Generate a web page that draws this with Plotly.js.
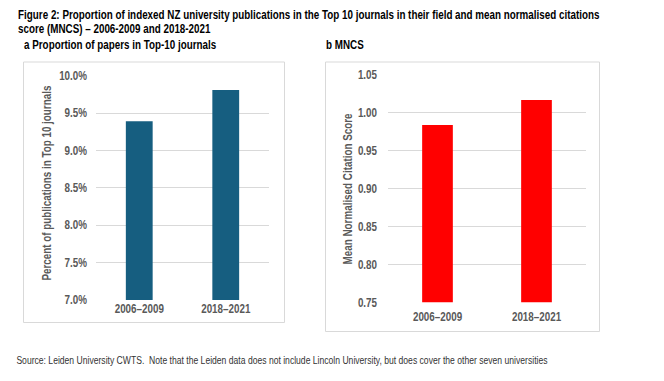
<!DOCTYPE html>
<html>
<head>
<meta charset="utf-8">
<script src="https://cdn.plot.ly/plotly-3.0.1.min.js"></script>
<style>html,body{margin:0;padding:0;background:#fff;}#chart{width:664px;height:381px;}</style>
</head>
<body>
<div id="chart"></div>
<script>
const periods = ["2006–2009", "2018–2021"];
const top10Share = [9.39, 9.81];
const mncs = [0.984, 1.017];
const top10Ticks = [7.0, 7.5, 8.0, 8.5, 9.0, 9.5, 10.0];
const mncsTicks = [0.75, 0.80, 0.85, 0.90, 0.95, 1.00, 1.05];

const W = 664, H = 381;
const px = x => x / W;
const py = y => 1 - y / H;
const FONT = "'Liberation Sans', Arial, sans-serif";
const grey = "#595959";
const gridc = "#d9d9d9";
const NARROW_SCALE = 0.82;

const traces = [
  {type: "bar", x: periods, y: top10Share, xaxis: "x", yaxis: "y",
   marker: {color: "#165e80"}, hoverinfo: "skip"},
  {type: "bar", x: periods, y: mncs, xaxis: "x2", yaxis: "y2",
   marker: {color: "#ff0000"}, hoverinfo: "skip"}
];

const tickFont = {family: FONT, size: 12, color: grey, weight: "bold"};

const layout = {
  width: W, height: H,
  margin: {l: 0, r: 0, t: 0, b: 0},
  paper_bgcolor: "#fff", plot_bgcolor: "rgba(0,0,0,0)",
  showlegend: false,
  bargap: 0.69,
  xaxis: {domain: [px(96), px(269)], anchor: "y", showgrid: false, zeroline: false,
          showline: false, ticks: "", tickfont: tickFont, ticklabelstandoff: 0, fixedrange: true},
  yaxis: {domain: [py(300), py(75.7)], anchor: "x", range: [7, 10], tickvals: top10Ticks,
          ticktext: top10Ticks.map(v => v.toFixed(1) + "%"),
          showgrid: true, gridcolor: gridc, gridwidth: 1, zeroline: false, showline: false,
          ticks: "", tickfont: tickFont, ticklabelstandoff: 8, fixedrange: true},
  xaxis2: {domain: [px(388), px(586)], anchor: "y2", showgrid: false, zeroline: false,
          showline: false, ticks: "", tickfont: tickFont, ticklabelstandoff: 6, fixedrange: true},
  yaxis2: {domain: [py(302.3), py(75)], anchor: "x2", range: [0.75, 1.05], tickvals: mncsTicks,
          ticktext: mncsTicks.map(v => v.toFixed(2)),
          showgrid: true, gridcolor: gridc, gridwidth: 1, zeroline: false, showline: false,
          ticks: "", tickfont: tickFont, ticklabelstandoff: 10, fixedrange: true},
  shapes: [
    {type: "rect", xref: "paper", yref: "paper", x0: px(23.5), x1: px(284.5), y0: py(62), y1: py(322.5),
     line: {color: gridc, width: 1}, fillcolor: "rgba(0,0,0,0)"},
    {type: "rect", xref: "paper", yref: "paper", x0: px(325.5), x1: px(599.5), y0: py(62), y1: py(331.5),
     line: {color: gridc, width: 1}, fillcolor: "rgba(0,0,0,0)"}
  ],
  annotations: [
    {text: "<b>Figure 2: Proportion of indexed NZ university publications in the Top 10 journals in their field and mean normalised citations</b>",
     xref: "paper", yref: "paper", x: px(16), y: py(15), xanchor: "left", yanchor: "middle", showarrow: false,
     font: {family: FONT, size: 12, color: "#000"}},
    {text: "<b>score (MNCS) – 2006-2009 and 2018-2021</b>",
     xref: "paper", yref: "paper", x: px(16), y: py(29), xanchor: "left", yanchor: "middle", showarrow: false,
     font: {family: FONT, size: 12, color: "#000"}},
    {text: "<b>a Proportion of papers in Top-10 journals</b>",
     xref: "paper", yref: "paper", x: px(22), y: py(45), xanchor: "left", yanchor: "middle", showarrow: false,
     font: {family: FONT, size: 12, color: "#000"}},
    {text: "<b>b MNCS</b>",
     xref: "paper", yref: "paper", x: px(324), y: py(45), xanchor: "left", yanchor: "middle", showarrow: false,
     font: {family: FONT, size: 12, color: "#000"}},
    {text: "<b>Percent of publications in Top 10 journals</b>",
     xref: "paper", yref: "paper", x: px(47), y: py(183), xanchor: "center", yanchor: "middle", showarrow: false,
     textangle: -90, font: {family: FONT, size: 12, color: grey}},
    {text: "<b>Mean Normalised Citation Score</b>",
     xref: "paper", yref: "paper", x: px(348), y: py(189), xanchor: "center", yanchor: "middle", showarrow: false,
     textangle: -90, font: {family: FONT, size: 12, color: grey}},
    {text: "Source: Leiden University CWTS.  Note that the Leiden data does not include Lincoln University, but does cover the other seven universities",
     xref: "paper", yref: "paper", x: px(14), y: py(360), xanchor: "left", yanchor: "middle", showarrow: false,
     font: {family: FONT, size: 10, color: "#333"}}
  ]
};

// Emulate a narrow typeface by compressing each text horizontally about an anchor.
function condense(el, scale, mode) {
  const b = el.getBBox();
  let ax;
  if (mode === "start") ax = b.x;
  else if (mode === "end") ax = b.x + b.width;
  else ax = b.x + b.width / 2;
  const prev = el.getAttribute("transform") || "";
  el.setAttribute("transform", (prev + " translate(" + ax + ",0) scale(" + scale + ",1) translate(" + (-ax) + ",0)").trim());
}

Plotly.newPlot("chart", traces, layout, {displayModeBar: false, staticPlot: true}).then(gd => {
  gd.querySelectorAll(".ytick text, .y2tick text").forEach(t => condense(t, NARROW_SCALE, "end"));
  gd.querySelectorAll(".xtick text, .x2tick text").forEach(t => condense(t, NARROW_SCALE, "middle"));
  gd.querySelectorAll("g.annotation").forEach(g => {
    const i = +g.getAttribute("data-index");
    const t = g.querySelector("text.annotation-text");
    if (!t) return;
    const a = layout.annotations[i];
    const sc = i === 6 ? 0.86 : NARROW_SCALE;
    condense(t, sc, a.xanchor === "left" ? "start" : "middle");
  });
});
</script>
</body>
</html>
